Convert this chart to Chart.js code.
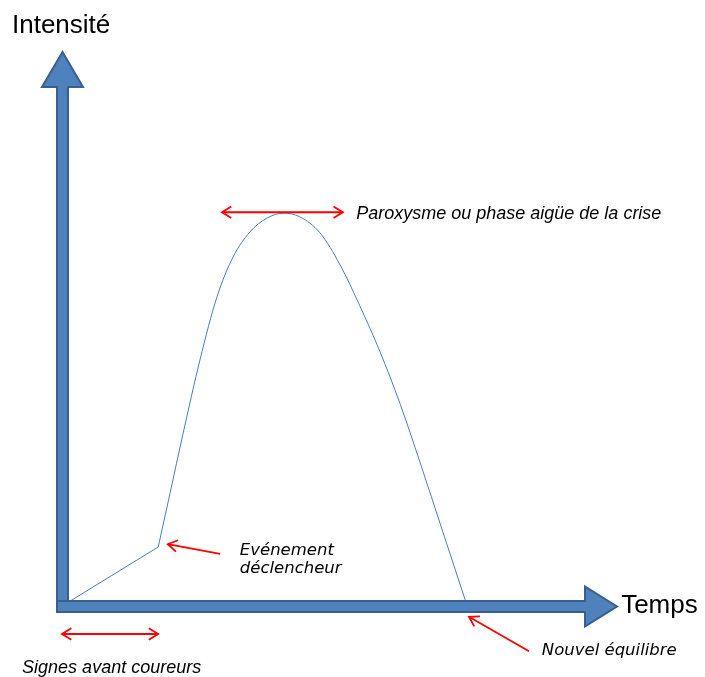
<!DOCTYPE html>
<html>
<head>
<meta charset="utf-8">
<script src="https://cdn.jsdelivr.net/npm/chart.js@4/dist/chart.umd.min.js"></script>
<style>
  body { margin: 0; background: #fff; }
  #wrap { width: 705px; height: 677px; position: relative; }
</style>
</head>
<body>
<div id="wrap"><canvas id="crisisChart"></canvas></div>
<script>
// data (time / intensity, arbitrary units)
const onsetX = [0, 1.99];
const onsetY = [0, 1.22];
const crisisX = [1.99, 2.25, 2.53, 2.90, 3.27, 3.62, 3.99, 4.36, 4.73, 5.08, 5.52, 5.96, 6.39, 6.83, 7.27, 7.70, 8.20, 8.71];
const crisisY = [1.22, 2.40, 3.68, 5.29, 6.66, 7.53, 8.08, 8.38, 8.49, 8.41, 8.06, 7.36, 6.47, 5.47, 4.33, 3.07, 1.55, 0];
const axisMax = 12;
const axisLabels = ["Temps", "Intensité"];

const toPoints = (xs, ys) => xs.map((x, i) => ({ x: x, y: ys[i] }));

const blue = "#4F81BD";
const blueEdge = "#3A5F8C";
const red = "#FF0000";

function redArrow(ctx, x1, y1, x2, y2, both) {
  const head = 11, spread = 0.55;
  ctx.save();
  ctx.strokeStyle = red;
  ctx.lineWidth = 1.8;
  ctx.beginPath();
  ctx.moveTo(x1, y1);
  ctx.lineTo(x2, y2);
  const tip = (tx, ty, fx, fy) => {
    const a = Math.atan2(ty - fy, tx - fx);
    ctx.moveTo(tx - head * Math.cos(a - spread), ty - head * Math.sin(a - spread));
    ctx.lineTo(tx, ty);
    ctx.lineTo(tx - head * Math.cos(a + spread), ty - head * Math.sin(a + spread));
  };
  tip(x2, y2, x1, y1);
  if (both) tip(x1, y1, x2, y2);
  ctx.stroke();
  ctx.restore();
}

function bigArrow(ctx, pts) {
  ctx.save();
  ctx.fillStyle = blue;
  ctx.strokeStyle = blueEdge;
  ctx.lineWidth = 2;
  ctx.beginPath();
  pts.forEach((p, i) => i ? ctx.lineTo(p[0], p[1]) : ctx.moveTo(p[0], p[1]));
  ctx.closePath();
  ctx.fill();
  ctx.stroke();
  ctx.restore();
}

const sketchPlugin = {
  id: "sketch",
  afterDatasetsDraw(chart) {
    const ctx = chart.ctx;
    const xs = chart.scales.x, ys = chart.scales.y;
    const px = v => xs.getPixelForValue(v);
    const py = v => ys.getPixelForValue(v);

    // axes as thick block arrows
    const ox = px(0) - 4.5, oy = py(0) + 3.5;
    const half = 5.5;
    const top = py(axisMax), right = px(axisMax);
    bigArrow(ctx, [
      [ox - half, oy + half], [ox - half, top + 35], [ox - 20.5, top + 35],
      [ox, top], [ox + 20.5, top + 35], [ox + half, top + 35], [ox + half, oy + half]
    ]);
    bigArrow(ctx, [
      [ox - half, oy - half], [right - 32, oy - half], [right - 32, oy - 20],
      [right, oy], [right - 32, oy + 20], [right - 32, oy + half], [ox - half, oy + half]
    ]);

    // axis titles
    ctx.save();
    ctx.fillStyle = "#000";
    ctx.textBaseline = "alphabetic";
    ctx.font = "26px 'Liberation Sans', Arial, sans-serif";
    ctx.fillText(axisLabels[0], px(12.09), py(-0.22));
    ctx.fillText(axisLabels[1], px(-1.2), py(12.41));

    // annotations
    ctx.font = "italic 18px 'Liberation Sans', Arial, sans-serif";
    ctx.fillText("Paroxysme ou phase aigüe de la crise", px(6.31), py(8.36));
    ctx.fillText("Signes avant coureurs", px(-0.98), py(-1.52));
    ctx.font = "oblique 16.5px 'DejaVu Sans', Verdana, sans-serif";
    ctx.fillText("Evénement", px(3.77), py(1.05));
    ctx.fillText("déclencheur", px(3.77), py(0.66));
    ctx.fillText("Nouvel équilibre", px(10.36), py(-1.13));
    ctx.restore();

    redArrow(ctx, px(3.38), py(8.51), px(6.02), py(8.51), true);
    redArrow(ctx, px(-0.11), py(-0.675), px(1.99), py(-0.675), true);
    redArrow(ctx, px(3.34), py(1.07), px(2.20), py(1.28), false);
    redArrow(ctx, px(10.08), py(-1.05), px(8.77), py(-0.30), false);
  }
};

new Chart(document.getElementById("crisisChart"), {
  type: "scatter",
  data: {
    datasets: [
      {
        label: "Signes avant coureurs",
        data: toPoints(onsetX, onsetY),
        showLine: true,
        borderColor: "#4A7EBB",
        borderWidth: 1,
        pointRadius: 0,
        tension: 0
      },
      {
        label: "Crise",
        data: toPoints(crisisX, crisisY),
        showLine: true,
        borderColor: "#4A7EBB",
        borderWidth: 1,
        pointRadius: 0,
        cubicInterpolationMode: "monotone"
      }
    ]
  },
  options: {
    responsive: true,
    maintainAspectRatio: false,
    animation: false,
    layout: { padding: { left: 67, right: 88, top: 52, bottom: 74 } },
    scales: {
      x: { type: "linear", min: 0, max: axisMax, display: false },
      y: { type: "linear", min: 0, max: axisMax, display: false }
    },
    plugins: {
      legend: { display: false },
      tooltip: { enabled: false }
    }
  },
  plugins: [sketchPlugin]
});
</script>
</body>
</html>
